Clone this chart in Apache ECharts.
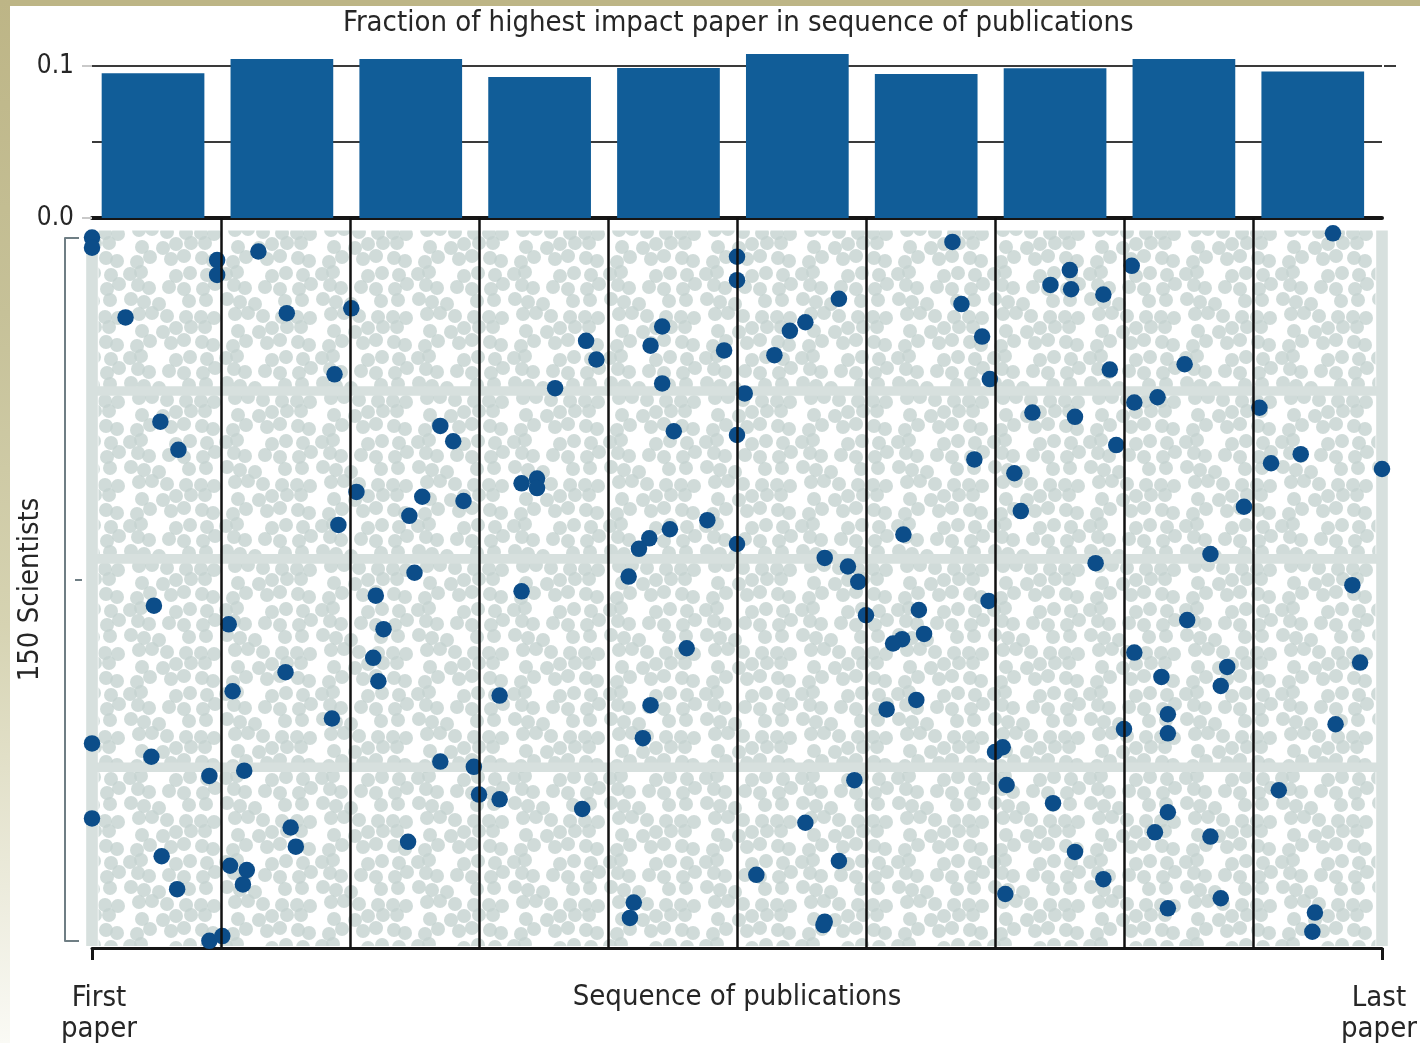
<!DOCTYPE html>
<html><head><meta charset="utf-8">
<script src="https://cdn.jsdelivr.net/npm/echarts@6/dist/echarts.min.js"></script>
<style>
html,body{margin:0;padding:0;background:#fff;overflow:hidden;}
#frameTop{position:absolute;left:0;top:0;width:1420px;height:6px;background:#bdb586;}
#frameLeft{position:absolute;left:0;top:0;width:10px;height:1043px;background:linear-gradient(#bdb586 0%,#c6c198 30%,#d6d3b2 60%,#ecebdc 85%,#fafaf5 100%);}
#chart{position:absolute;left:0;top:0;width:1420px;height:1043px;}
</style></head><body>
<div id="frameTop"></div><div id="frameLeft"></div><div id="chart"></div>
<script>
// ---------------- data ----------------
const titleText = 'Fraction of highest impact paper in sequence of publications';
const decileLabels = ['1','2','3','4','5','6','7','8','9','10'];
const fractionValues = [0.0952, 0.1046, 0.1046, 0.0928, 0.0987, 0.1079, 0.0947, 0.0985, 0.1046, 0.0963];
const fractionTicks = [0, 0.1];
const decileBoundaries = [10, 20, 30, 40, 50, 60, 70, 80, 90];
const scientistCount = 150;
const denseRows = [33.9, 69.0, 112.6];
const xEndLabels = ['First\npaper', 'Last\npaper'];
const xAxisTitle = 'Sequence of publications';
const yAxisTitle = '150 Scientists';
// [position in sequence (% of career), scientist row]
const topPaperPoints = [
 [0,1.8],[0,3.9],[2.6,18.5],[5.3,40.3],[6.7,46.2],[4.8,78.8],[0,107.6],[4.6,110.4],[0,123.3],[5.4,131.2],
 [6.6,138.1],[9.1,148.9],[10.1,147.9],[9.1,114.4],[9.7,6.5],[9.7,9.6],[12.9,4.7],[15.1,17.6],[20.1,16.6],[18.8,30.4],
 [27.0,41.2],[28.0,44.4],[20.5,55.0],[25.6,56.0],[28.8,56.9],[24.6,60.0],[19.1,61.9],[25.0,71.9],[38.3,23.4],[39.1,27.3],
 [35.9,33.3],[44.2,20.4],[43.3,24.4],[44.2,32.3],[45.1,42.3],[49.0,25.4],[50.0,5.8],[50.0,10.7],[50.6,34.4],[50.0,43.1],
 [52.9,26.4],[54.1,21.3],[55.3,19.5],[57.9,14.6],[66.7,2.7],[67.4,15.7],[69.0,22.5],[69.6,31.4],[74.3,11.7],[75.8,8.6],
 [75.9,12.6],[78.4,13.7],[80.6,7.7],[78.9,29.4],[84.7,28.3],[80.8,36.3],[82.6,35.2],[90.5,37.4],[72.9,38.4],[76.2,39.3],
 [79.4,45.2],[68.4,48.2],[71.5,51.1],[91.4,49.0],[93.7,47.1],[100,50.2],[72.0,59.0],[89.3,58.1],[86.7,68.0],[77.8,69.9],
 [97.7,74.5],[96.2,0.9],[33.3,53.2],[34.5,52.2],[34.5,54.2],[47.7,60.9],[44.8,62.8],[43.2,64.7],[42.4,66.9],[50.0,65.9],
 [56.8,68.8],[58.6,70.6],[59.4,73.8],[62.9,63.9],[41.6,72.7],[33.3,75.8],[10.6,82.7],[22.0,76.7],[22.6,83.7],[21.8,89.7],
 [22.2,94.6],[15.0,92.7],[10.9,96.7],[18.6,102.4],[11.8,113.3],[27.0,111.4],[29.6,112.5],[30.0,118.3],[31.6,119.3],[24.5,128.2],
 [15.4,125.2],[15.8,129.2],[10.7,133.2],[12.0,134.1],[11.7,137.1],[60.0,80.8],[64.1,79.7],[62.8,85.8],[62.1,86.7],[64.5,84.7],
 [63.9,98.5],[61.6,100.5],[46.1,87.7],[43.3,99.6],[42.7,106.5],[31.6,97.6],[38.0,121.3],[59.1,115.3],[55.3,124.2],[57.9,132.2],
 [51.5,135.1],[42.0,140.9],[41.7,144.1],[56.8,144.9],[56.7,145.6],[69.5,77.8],[84.9,81.8],[80.8,88.6],[82.9,93.7],[88.0,91.6],
 [87.5,95.6],[98.3,90.7],[83.4,101.5],[83.4,105.5],[80.0,104.6],[96.4,103.6],[70.6,108.4],[70.0,109.4],[70.9,116.3],[74.5,120.1],
 [76.2,130.3],[78.4,136.0],[70.8,139.1],[83.4,122.0],[82.4,126.2],[86.7,127.1],[83.4,142.1],[87.5,140.0],[92.0,117.4],[94.8,143.0],
 [94.6,147.0]
];

// ---------------- style helpers ----------------
const FONT = "'DejaVu Sans Condensed','Liberation Sans Narrow','DejaVu Sans',sans-serif";
const INK = '#262626';
const BAND = '#d7e0de';

// texture tile for the background of grey (other-paper) dots: a jittered lattice (pure styling)
const tileJitter = [[2,-1],[-3,2],[1,3],[-2,-2],[3,0],[0,-3],[-1,2],[2,1],[-3,-1],[1,-2],[0,3],[-2,0],
  [3,2],[-1,-3],[2,-2],[-3,1],[1,0],[0,2],[-2,-1],[3,-2],[0,1],[-1,3],[2,-3],[-3,0],
  [1,2],[-2,3],[3,-1],[0,-2],[-1,1],[2,2],[-3,-2],[1,1],[-2,2],[3,3],[0,-1],[-1,-2]];
const tileHoles = [9, 22, 31];
function dotPattern() {
  const W = 96, H = 84;
  const c = document.createElement('canvas');
  c.width = W; c.height = H;
  const g = c.getContext('2d');
  g.fillStyle = 'rgba(198,211,209,0.82)';
  for (let j = 0; j < 6; j++) for (let i = 0; i < 6; i++) {
    const k = j * 6 + i;
    if (tileHoles.indexOf(k) >= 0) continue;
    const cx = 8 + 16 * i + (j % 2 ? 8 : 0) + tileJitter[k][0];
    const cy = 7 + 14 * j + tileJitter[k][1];
    for (let ox = -W; ox <= W; ox += W) for (let oy = -H; oy <= H; oy += H) {
      g.beginPath(); g.arc(cx + ox, cy + oy, 7, 0, Math.PI * 2); g.fill();
    }
  }
  return { image: c, repeat: 'repeat' };
}

const bgAreas = [
  [{ coord: [0.5, 0.3], itemStyle: { color: dotPattern() } }, { coord: [99.5, scientistCount] }],
  ...denseRows.map(r => [{ coord: [0, r - 1.0], itemStyle: { color: BAND } }, { coord: [100, r + 1.0] }]),
  [{ coord: [-0.45, 0.6], itemStyle: { color: BAND } }, { coord: [0.45, scientistCount] }],
  [{ coord: [99.55, 0.3], itemStyle: { color: BAND } }, { coord: [100.45, scientistCount] }]
];

const chart = echarts.init(document.getElementById('chart'), null, { renderer: 'canvas' });
chart.setOption({
  animation: false,
  backgroundColor: 'transparent',
  textStyle: { fontFamily: FONT },
  title: {
    text: titleText, left: 338, top: 4,
    textStyle: { fontFamily: FONT, fontSize: 29, fontWeight: 'normal', color: INK }
  },
  grid: [
    { left: 92, width: 1290, top: 35.6, height: 182.4, outerBoundsMode: 'none' },    // 0 gridlines of the bar panel
    { left: 88.6, width: 1288.6, top: 35.6, height: 182.4, outerBoundsMode: 'none' },// 1 bars
    { left: 92, width: 1290, top: 218, height: 730, outerBoundsMode: 'none' },       // 2 scatter
    { left: 65, width: 10, top: 238, height: 703, outerBoundsMode: 'none' },         // 3 bracket
    { left: 80, width: 1314, top: 218, height: 730, outerBoundsMode: 'none' }        // 4 background texture
  ],
  xAxis: [
    { gridIndex: 0, type: 'value', min: 0, max: 1, axisLine: { show: true, onZero: false, lineStyle: { color: '#161616', width: 4 } },
      axisTick: { show: false }, axisLabel: { show: false }, splitLine: { show: false } },
    { gridIndex: 1, type: 'category', data: decileLabels, show: false },
    { gridIndex: 2, type: 'value', min: 0, max: 100, interval: 100,
      axisLine: { show: true, onZero: false, lineStyle: { color: '#161616', width: 3 } },
      axisTick: { show: true, length: 12, lineStyle: { color: '#161616', width: 3 } },
      axisLabel: { show: true, margin: 35, fontFamily: FONT, fontSize: 29, lineHeight: 31, color: INK,
        formatter: v => {
          const parts = (v === 0 ? xEndLabels[0] : xEndLabels[1]).split('\n');
          const st = v === 0 ? 'f' : 'l';
          return parts.map(p => '{' + st + '|' + p + '}').join('\n');
        },
        rich: {
          f: { fontFamily: FONT, fontSize: 29, lineHeight: 31, color: INK, padding: [0, 0, 0, 14] },
          l: { fontFamily: FONT, fontSize: 29, lineHeight: 31, color: INK, padding: [0, 6, 0, 0] }
        } },
      splitLine: { show: false },
      name: xAxisTitle, nameLocation: 'middle', nameGap: 34, nameMoveOverlap: false,
      nameTextStyle: { fontFamily: FONT, fontSize: 29, color: INK, verticalAlign: 'top', lineHeight: 31 } },
    { gridIndex: 3, type: 'value', min: 0, max: 1, show: false },
    { gridIndex: 4, type: 'value', min: -0.9302, max: 100.93, show: false }
  ],
  yAxis: [
    { gridIndex: 0, type: 'value', min: 0, max: 0.12, interval: 0.05,
      axisLine: { show: false },
      axisTick: { show: true, customValues: fractionTicks, length: 10, lineStyle: { color: '#c9c9c9', width: 2 } },
      axisLabel: { show: true, customValues: fractionTicks, margin: 18, fontFamily: FONT, fontSize: 26, color: INK,
        formatter: v => v.toFixed(1) },
      splitLine: { show: false } },
    { gridIndex: 0, type: 'value', position: 'right', min: 0, max: 0.12, interval: 0.05, offset: 2,
      axisLine: { show: false },
      axisTick: { show: true, customValues: [fractionTicks[1]], length: 12, lineStyle: { color: '#3a3a3a', width: 2 } },
      axisLabel: { show: false }, splitLine: { show: false } },
    { gridIndex: 1, type: 'value', min: 0, max: 0.12, show: false },
    { gridIndex: 2, type: 'value', min: -2.3, max: 150.4, inverse: true, show: false },
    { gridIndex: 3, type: 'value', min: 0, max: scientistCount, inverse: true,
      axisLine: { show: true, lineStyle: { color: '#6f7e84', width: 2 } },
      axisTick: { show: true, inside: true, customValues: [0, scientistCount], length: 14, lineStyle: { color: '#6f7e84', width: 2 } },
      axisLabel: { show: false }, splitLine: { show: false },
      name: yAxisTitle, nameLocation: 'middle', nameRotate: 90, nameGap: 20, nameMoveOverlap: false,
      nameTextStyle: { fontFamily: FONT, fontSize: 29, color: INK } },
    { gridIndex: 3, type: 'value', min: 0, max: scientistCount, inverse: true,
      axisLine: { show: false },
      axisTick: { show: true, customValues: [73], length: 7, lineStyle: { color: '#6f7e84', width: 2 } },
      axisLabel: { show: false }, splitLine: { show: false } },
    { gridIndex: 4, type: 'value', min: -2.3, max: 150.4, inverse: true, show: false },
    // split lines of the bar panel (0.05, 0.1)
    { gridIndex: 0, type: 'value', position: 'left', min: 0, max: 0.12, interval: 0.05,
      axisLine: { show: false }, axisTick: { show: false }, axisLabel: { show: false },
      splitLine: { show: true, showMinLine: false, showMaxLine: false, lineStyle: { color: '#3a3a3a', width: 2 } } }
  ],
  series: [
    { type: 'bar', xAxisIndex: 1, yAxisIndex: 2, data: fractionValues, barCategoryGap: '20.3%',
      itemStyle: { color: '#115d98' }, z: 3, silent: true },
    { type: 'scatter', xAxisIndex: 4, yAxisIndex: 6, data: [], z: 1, silent: true,
      markArea: { silent: true, data: bgAreas } },
    { type: 'scatter', xAxisIndex: 2, yAxisIndex: 3, data: topPaperPoints, symbolSize: 16.5, clip: false,
      itemStyle: { color: '#0c4d89', opacity: 1 }, z: 3, silent: true },
    { type: 'scatter', xAxisIndex: 2, yAxisIndex: 3, data: [], z: 5, silent: true,
      markLine: { silent: true, symbol: 'none', label: { show: false },
        lineStyle: { color: '#111', width: 2.5, type: 'solid' },
        data: decileBoundaries.map(v => ({ xAxis: v })) } }
  ]
});
</script>
</body></html>
